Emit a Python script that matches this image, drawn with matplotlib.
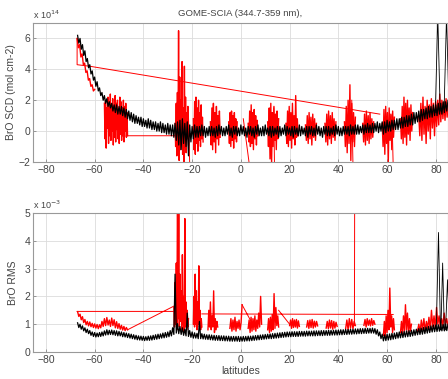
import numpy as np
import matplotlib
matplotlib.use("Agg")
import matplotlib.pyplot as plt

plt.rcParams['font.family'] = ['Liberation Sans', 'DejaVu Sans']

# ---------------- data ----------------
x_ticks = [-80, -60, -40, -20, 0, 20, 40, 60, 80]
scd_yticks = [-2, 0, 2, 4, 6]
rms_yticks = [0, 1, 2, 3, 4, 5]

# latitude grid of the black (reference) traces, 0.5 deg spacing
black_lat = np.arange(-67.0, 85.01, 0.5)

# BrO SCD, black trace (units 1e14)
scd_black = [
    6.2, 5.7, 6.0, 5.3, 5.6, 4.9, 5.2, 4.5, 4.7, 4.1,
    4.3, 3.7, 3.9, 3.3, 3.5, 2.9, 3.2, 2.6, 2.8, 2.3,
    2.5, 2.0, 2.3, 1.8, 2.1, 1.6, 1.9, 1.5, 1.8, 1.3,
    1.7, 1.2, 1.7, 1.1, 1.6, 1.1, 1.6, 1.0, 1.5, 0.9,
    1.4, 0.8, 1.3, 0.7, 1.2, 0.6, 1.1, 0.5, 1.0, 0.5,
    0.9, 0.4, 0.9, 0.3, 0.8, 0.3, 0.7, 0.2, 0.8, 0.2,
    0.7, 0.1, 0.6, 0.1, 0.6, 0.0, 0.5, 0.0, 0.6, -0.1,
    0.5, -0.1, 0.4, -0.2, 0.5, -0.2, 0.4, -0.3, 0.4, -0.4,
    0.5, -0.6, 0.6, -0.9, 0.7, -1.2, 0.8, -0.8, 0.5, -1.0,
    0.6, -1.6, 0.4, -0.7, 0.3, -0.5, 0.4, -0.4, 0.3, -0.4,
    0.3, -0.3, 0.4, -0.3, 0.3, -0.4, 0.2, -0.3, 0.3, -0.3,
    0.3, -0.3, 0.2, -0.4, 0.3, -0.3, 0.4, -0.2, 0.3, -0.3,
    0.2, -0.3, 0.3, -0.2, 0.4, -0.3, 0.2, -0.4, 0.3, -0.2,
    0.3, -0.3, 0.2, -0.3, 0.4, -0.2, 0.3, -0.3, 0.2, -0.4,
    0.3, -0.2, 0.3, -0.3, 0.2, -0.4, 0.3, -0.2, 0.4, -0.3,
    0.2, -0.3, 0.3, -0.3, 0.4, -0.2, 0.2, -0.3, 0.3, -0.4,
    0.3, -0.3, 0.2, -0.2, 0.3, -0.4, 0.3, -0.3, 0.2, -0.2,
    0.4, -0.3, 0.3, -0.2, 0.2, -0.3, 0.3, -0.4, 0.3, -0.2,
    0.2, -0.3, 0.4, -0.3, 0.3, -0.2, 0.2, -0.3, 0.3, -0.4,
    0.3, -0.2, 0.3, -0.3, 0.2, -0.3, 0.4, -0.2, 0.3, -0.3,
    0.2, -0.4, 0.3, -0.2, 0.3, -0.3, 0.3, -0.3, 0.2, -0.2,
    0.3, -0.3, 0.4, -0.2, 0.3, -0.3, 0.2, -0.3, 0.3, -0.2,
    0.3, -0.2, 0.3, -0.3, 0.4, -0.2, 0.3, -0.2, 0.4, -0.2,
    0.4, -0.2, 0.3, -0.1, 0.4, -0.2, 0.4, -0.1, 0.5, -0.1,
    0.4, -0.1, 0.5, -0.1, 0.5, 0.0, 0.6, -0.1, 0.5, 0.0,
    0.6, -0.2, 0.6, -0.1, 0.7, 0.0, 0.6, 0.0, 0.7, 0.1,
    0.7, 0.1, 0.8, 0.1, 0.8, 0.2, 0.9, 0.2, 0.9, 0.3,
    1.0, 0.3, 1.0, 0.4, 1.1, 0.4, 1.2, 0.5, 1.2, 0.6,
    1.3, 0.6, 1.4, 0.7, 1.4, 0.8, 1.5, 0.8, 1.6, 0.9,
    1.6, 0.9, 1.7, 1.0, 1.7, 1.0, 1.8, 1.1, 1.8, 1.1,
    1.9, 1.2, 1.9, 1.3, 2.0,
]
scd_black_spike_lat = [79.8, 80.8, 81.8, np.nan, 83.4, 84.4, 85.4]
scd_black_spike_val = [1.2, 7.5, 1.3, np.nan, 1.4, 7.5, 1.5]

# BrO SCD, red trace: bursts (lat start, lat end, values)
scd_red_bursts = [
    (-67.2, -60.0, [6.0, 5.4, 5.6, 4.8, 5.0, 4.3, 4.4, 3.8, 3.9, 3.3, 3.4, 2.9, 3.0, 2.6, 2.7]),
    (-56.0, -46.5, [1.8, -0.5, 2.0, -1.1, 1.5, 0.2, 2.2, -0.8, 1.9, -0.3, 2.4, -0.6, 1.7, 0.0,
                    2.1, -0.9, 1.6, -0.4, 2.3, -0.7, 1.8, 0.1, 2.0, -0.5, 1.4, -0.8, 2.2, -0.2,
                    1.9, -0.6, 1.5, -0.3, 2.0, -0.7, 1.6, 0.0, 1.8, -0.4, 1.2, -0.3]),
    (-27.0, -21.5, [0.5, -1.0, 1.8, -1.6, 2.5, -0.8, 6.5, -1.9, 3.5, -1.2, 2.0, -0.6, 4.5, -1.5,
                    1.5, -2.0, 4.2, -1.0, 2.2, -1.4, 1.2, -0.5, 1.6, -0.9]),
    (-19.5, -15.5, [0.8, -1.2, 1.9, -1.5, 2.2, -0.8, 1.5, -1.3, 2.0, -0.6, 1.2, -1.0, 1.7, -0.5, 0.9, -0.7]),
    (-12.5, -8.5, [0.6, -0.9, 1.5, -1.2, 1.8, -0.7, 1.2, -1.4, 1.6, -0.5, 1.0, -0.9, 1.3, -0.4]),
    (-5.0, -1.5, [0.6, -0.8, 1.2, -1.0, 1.3, -0.6, 1.0, -1.1, 1.2, -0.5, 0.8, -0.7, 0.6]),
    (3.0, 7.0, [0.5, -0.7, 1.3, -1.0, 1.7, -0.8, 1.2, -1.2, 1.4, -0.5, 1.0, -0.9, 0.7, -0.3]),
    (11.0, 15.5, [0.6, -1.0, 1.5, -1.8, 1.8, -2.1, 1.2, -1.0, 1.6, -0.6, 1.1, -1.2, 1.3, -0.5, 0.8]),
    (18.5, 23.5, [0.5, -0.8, 1.3, -1.0, 1.6, -0.6, 1.2, -1.1, 1.8, -0.5, 1.0, -0.9, 2.3, -0.4, 0.8, -0.3]),
    (26.5, 31.0, [0.4, -0.6, 1.0, -0.8, 1.2, -0.5, 0.9, -0.9, 1.1, -0.4, 0.8, -0.6, 0.5]),
    (34.5, 39.0, [0.5, -0.7, 1.1, -0.9, 1.3, -0.5, 1.0, -0.8, 1.2, -0.4, 0.8, -0.6, 0.6]),
    (42.5, 47.0, [0.6, -1.0, 1.6, -1.4, 2.0, -0.8, 3.0, -1.9, 1.8, -0.7, 1.2, -1.0, 0.9]),
    (50.0, 54.5, [0.5, -0.7, 1.1, -0.9, 1.3, -0.6, 1.0, -0.8, 1.2, -0.5, 0.8, -0.4, 0.6]),
    (58.0, 63.0, [0.5, -1.0, 1.4, -1.5, 1.6, -0.8, 1.2, -2.0, 1.5, -0.6, 1.1, -1.2, 1.3, -0.4, 0.9]),
    (65.5, 70.5, [0.8, -0.5, 1.6, -0.8, 2.2, -0.4, 1.8, -0.9, 2.0, -0.2, 1.5, -0.6, 1.7, 0.0, 1.2]),
    (73.0, 85.5, [1.0, -0.3, 1.8, -0.6, 2.2, -0.2, 1.6, -0.8, 2.0, 0.0, 1.7, -0.5, 2.1, 0.2,
                  1.8, -0.3, 1.9, 0.3, 2.0, 0.4, 2.4, 0.6, 2.0, 0.8, 1.9, 0.7, 2.1, 0.9, 1.8, 1.0]),
]
# connecting segments of the red SCD trace
scd_red_links_lat = [-67.2, -67.2, -62.0, 57.0, np.nan, -47.0, -27.0, np.nan,
                     -21.5, -21.0, np.nan, 1.0, 3.5, np.nan, 13.5, 13.8, np.nan,
                     45.5, 46.0, np.nan, 62.0, 62.5]
scd_red_links_val = [6.0, 4.3, 4.2, 1.1, np.nan, -0.3, -0.3, np.nan,
                     1.0, -2.2, np.nan, 0.8, -2.2, np.nan, 1.5, -2.2, np.nan,
                     2.0, -2.2, np.nan, 1.0, -2.2]

# BrO RMS, black trace (units 1e-3)
rms_black = [
    1.05, 0.88, 1.0, 0.82, 0.94, 0.76, 0.87, 0.7, 0.82, 0.66,
    0.77, 0.6, 0.72, 0.56, 0.7, 0.54, 0.68, 0.55, 0.7, 0.56,
    0.72, 0.58, 0.76, 0.61, 0.8, 0.62, 0.78, 0.63, 0.79, 0.62,
    0.77, 0.6, 0.76, 0.58, 0.74, 0.58, 0.72, 0.55, 0.7, 0.54,
    0.68, 0.52, 0.66, 0.5, 0.64, 0.48, 0.62, 0.46, 0.6, 0.44,
    0.58, 0.43, 0.57, 0.42, 0.56, 0.41, 0.55, 0.42, 0.57, 0.42,
    0.58, 0.43, 0.6, 0.45, 0.62, 0.46, 0.64, 0.48, 0.65, 0.5,
    0.68, 0.51, 0.7, 0.53, 0.72, 0.55, 0.77, 0.58, 0.87, 0.63,
    2.8, 0.68, 1.02, 0.66, 0.92, 0.63, 0.87, 0.6, 0.82, 0.58,
    1.4, 0.56, 0.77, 0.53, 0.72, 0.5, 0.69, 0.5, 0.67, 0.48,
    1.1, 0.48, 0.66, 0.47, 0.64, 0.46, 0.62, 0.45, 0.62, 0.44,
    0.61, 0.43, 0.6, 0.42, 0.59, 0.42, 0.59, 0.41, 0.58, 0.41,
    0.58, 0.4, 0.57, 0.4, 0.57, 0.39, 0.56, 0.39, 0.56, 0.39,
    0.56, 0.39, 0.56, 0.38, 0.55, 0.39, 0.56, 0.39, 0.56, 0.4,
    0.57, 0.4, 0.57, 0.41, 0.58, 0.42, 0.59, 0.43, 0.6, 0.44,
    0.61, 0.45, 0.62, 0.46, 0.63, 0.47, 0.64, 0.48, 0.65, 0.48,
    0.66, 0.49, 0.67, 0.5, 0.68, 0.51, 0.69, 0.52, 0.7, 0.53,
    0.71, 0.54, 0.72, 0.55, 0.72, 0.55, 0.73, 0.56, 0.73, 0.56,
    0.73, 0.56, 0.74, 0.57, 0.74, 0.57, 0.74, 0.57, 0.75, 0.58,
    0.75, 0.58, 0.75, 0.58, 0.76, 0.58, 0.76, 0.59, 0.76, 0.59,
    0.77, 0.59, 0.77, 0.6, 0.77, 0.6, 0.78, 0.6, 0.78, 0.61,
    0.78, 0.61, 0.79, 0.61, 0.79, 0.62, 0.8, 0.62, 0.8, 0.63,
    0.81, 0.63, 0.81, 0.64, 0.82, 0.64, 0.82, 0.65, 0.83, 0.65,
    0.83, 0.66, 0.84, 0.66, 0.84, 0.67, 0.85, 0.67, 0.85, 0.68,
    0.85, 0.68, 0.86, 0.68, 0.84, 0.64, 0.8, 0.58, 0.72, 0.48,
    0.64, 0.4, 0.62, 0.41, 0.64, 0.43, 0.65, 0.44, 0.67, 0.46,
    0.68, 0.48, 0.7, 0.5, 0.72, 0.51, 0.73, 0.52, 0.74, 0.54,
    0.76, 0.55, 0.77, 0.56, 0.78, 0.58, 0.8, 0.6, 0.82, 0.62,
    0.84, 0.63, 0.86, 0.64, 0.88, 0.66, 0.9, 0.68, 0.92, 0.7,
    0.94, 0.72, 0.97, 0.73, 0.97, 0.74, 0.98, 0.75, 0.99, 0.76,
    0.99, 0.76, 1.0, 0.77, 1.0,
]
rms_black_spike_lat = [80.2, 81.1, 81.9, np.nan, 82.1, 82.8, 83.5, np.nan, 84.0, 84.8, 85.5]
rms_black_spike_val = [0.8, 4.3, 0.8, np.nan, 0.8, 3.2, 0.8, np.nan, 0.8, 2.6, 0.9]

# BrO RMS, red trace: bursts (lat start, lat end, values)
rms_red_bursts = [
    (-67.0, -46.5, [1.45, 1.28, 1.36, 1.16, 1.27, 1.06, 1.17, 0.98, 1.1, 0.94, 1.08, 0.91, 1.03, 0.88,
                    1.01, 0.86, 0.99, 0.84, 0.98, 0.87, 1.1, 0.92, 1.2, 0.95, 1.24, 0.97, 1.15, 0.92,
                    1.22, 0.95, 1.16, 0.87, 1.09, 0.85, 1.02, 0.82, 0.96, 0.79, 0.92, 0.77, 0.88, 0.8]),
    (-27.5, -21.5, [1.6, 0.9, 2.5, 1.0, 3.2, 0.8, 6.0, 1.2, 6.0, 0.9, 2.8, 1.1, 2.2, 0.8, 3.5, 1.0,
                    2.0, 0.7, 4.8, 0.9, 1.8, 0.8, 1.5, 0.9, 1.2]),
    (-19.5, -16.0, [1.0, 2.0, 0.9, 2.8, 1.0, 2.2, 0.8, 1.8, 1.0, 3.1, 0.9, 1.5, 0.8, 1.2, 0.9]),
    (-13.5, -9.5, [0.8, 1.5, 0.9, 1.8, 0.8, 1.3, 0.9, 2.2, 0.7, 1.2, 0.8, 1.1, 0.9]),
    (-4.5, 0.5, [0.85, 1.2, 0.75, 1.15, 0.8, 1.25, 0.75, 1.1, 0.85, 1.15, 0.8, 1.05, 1.7]),
    (3.0, 8.5, [0.85, 1.15, 0.7, 1.25, 0.75, 1.2, 0.8, 1.3, 0.75, 1.15, 0.85, 1.4, 0.9, 2.0, 1.0]),
    (11.0, 15.5, [0.8, 1.2, 0.7, 1.25, 0.75, 1.35, 0.8, 2.1, 0.85, 1.6, 0.95, 1.3, 0.9]),
    (20.0, 24.0, [0.95, 1.15, 0.85, 1.2, 0.88, 1.15, 0.9, 1.17, 0.86, 1.12, 0.92]),
    (27.0, 31.5, [0.9, 1.13, 0.85, 1.15, 0.88, 1.17, 0.86, 1.11, 0.9, 1.1, 0.94]),
    (35.0, 39.5, [0.86, 1.1, 0.84, 1.15, 0.86, 1.13, 0.82, 1.1, 0.86, 1.07, 0.92]),
    (43.0, 47.0, [0.84, 1.15, 0.8, 1.2, 0.86, 1.17, 0.84, 1.1, 0.95]),
    (50.5, 55.0, [0.96, 1.17, 0.9, 1.2, 0.96, 1.15, 0.94, 1.2, 0.96, 1.13, 1.0]),
    (58.5, 63.0, [0.6, 1.1, 0.55, 1.3, 0.7, 1.5, 0.8, 2.3, 0.9, 1.3, 0.7, 1.2, 0.8]),
    (65.5, 70.0, [0.7, 1.1, 0.65, 1.3, 0.75, 1.7, 0.8, 1.4, 0.7, 1.2, 0.75, 1.0]),
    (72.5, 85.5, [0.75, 1.0, 0.7, 1.15, 0.8, 1.2, 0.75, 1.1, 0.85, 1.25, 0.8, 1.5, 0.9, 1.3,
                  0.85, 1.6, 1.0, 1.3, 0.9, 1.2, 0.95, 1.4, 1.0, 1.2, 0.95, 1.1]),
]
rms_red_links_lat = [-67.2, -27.5, np.nan, -46.5, -27.5, np.nan, -16.0, 62.5, np.nan,
                     0.5, 4.5, np.nan, 15.5, 20.0, np.nan, 46.6, 46.7]
rms_red_links_val = [1.46, 1.46, np.nan, 0.8, 1.65, np.nan, 1.37, 1.35, np.nan,
                     1.7, 1.05, np.nan, 1.5, 1.0, np.nan, 0.95, 5.6]


def burst_xy(bursts):
    xs, ys = [], []
    for a, b, vals in bursts:
        xs.extend(np.linspace(a, b, len(vals)).tolist() + [np.nan])
        ys.extend(list(vals) + [np.nan])
    return xs, ys


# ---------------- figure ----------------
TXT = '#444444'
fig = plt.figure(figsize=(4.48, 3.79), dpi=100)
ax1 = fig.add_axes([33 / 448, 1 - 162 / 379, 415 / 448, 139 / 379])
ax2 = fig.add_axes([33 / 448, 1 - 352 / 379, 415 / 448, 139 / 379])

# top panel
rx, ry = burst_xy(scd_red_bursts)
ax1.plot(rx, ry, color='red', lw=1.0)
ax1.plot(scd_red_links_lat, scd_red_links_val, color='red', lw=0.7)
ax1.plot(black_lat, scd_black, color='black', lw=0.9)
ax1.plot(scd_black_spike_lat, scd_black_spike_val, color='black', lw=0.6)

# bottom panel
rx, ry = burst_xy(rms_red_bursts)
ax2.plot(rx, ry, color='red', lw=1.0)
ax2.plot(rms_red_links_lat, rms_red_links_val, color='red', lw=0.7)
ax2.plot(black_lat, rms_black, color='black', lw=0.9)
ax2.plot(rms_black_spike_lat, rms_black_spike_val, color='black', lw=0.6)

for ax, yt, ylim in [(ax1, scd_yticks, (-2, 7)), (ax2, rms_yticks, (0, 5))]:
    ax.set_xlim(-85.3, 85.0)
    ax.set_ylim(*ylim)
    ax.set_xticks(x_ticks)
    ax.set_yticks(yt)
    ax.grid(True, color='#dcdcdc', lw=0.6)
    ax.set_axisbelow(True)
    ax.tick_params(direction='in', length=2.5, width=0.6, colors='#888888',
                   labelcolor=TXT, labelsize=7.5, pad=2)
    for s in ax.spines.values():
        s.set_color('#999999')
        s.set_linewidth(0.8)

ax1.set_title('GOME-SCIA (344.7-359 nm),', fontsize=6.8, color=TXT, pad=5)
ax1.text(0.0, 1.015, r'x 10$^{14}$', transform=ax1.transAxes, fontsize=6.5,
         color=TXT, ha='left', va='bottom')
ax2.text(0.0, 1.015, r'x 10$^{-3}$', transform=ax2.transAxes, fontsize=6.5,
         color=TXT, ha='left', va='bottom')
ax1.set_ylabel('BrO SCD (mol cm-2)', fontsize=7.5, color=TXT)
ax2.set_ylabel('BrO RMS', fontsize=7.5, color=TXT)
ax1.yaxis.set_label_coords(-0.042, 0.5)
ax2.yaxis.set_label_coords(-0.036, 0.5)
ax2.set_xlabel('latitudes', fontsize=7.5, color=TXT, labelpad=1)

fig.savefig('out.png', dpi=100)
